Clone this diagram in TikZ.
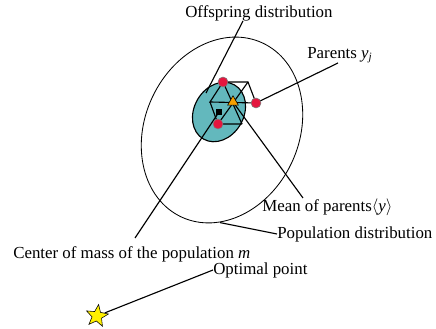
\documentclass[tikz,border=0pt]{standalone}
\usepackage{fontspec}
\setmainfont{Liberation Serif}
\usepackage{tikz}
\usepackage{xcolor}
\usetikzlibrary{shapes.geometric}
\definecolor{offteal}{RGB}{99,184,189}
\definecolor{parentred}{RGB}{228,22,62}
\definecolor{meanorange}{RGB}{245,160,0}
\definecolor{staryellow}{RGB}{255,240,0}

\begin{document}
\begin{tikzpicture}[
	parent/.style={circle, fill=parentred, draw=black!50, thin, inner sep=0pt, minimum size=0.25cm},
	lbl/.style={anchor=west, inner sep=0pt, font=\fontsize{12}{14}\selectfont},
	wire/.style={thick}
]
				\useasboundingbox (0,0) rectangle (10.9,8.225);
				
				\draw[thick, fill=offteal] (5.475,5.425) ellipse[x radius=0.78cm, y radius=0.62cm, rotate=60];
				\draw[semithick] (5.55,4.975) ellipse[x radius=2.4cm, y radius=1.925cm, rotate=65];
				
				\coordinate (pa) at (5.575,6.175);
				\coordinate (pb) at (6.4,5.65);
				\coordinate (pc) at (5.45,5.125);
				\coordinate (vb) at (6.2,6.175);
				\coordinate (vd) at (5.25,5.675);
				\coordinate (vf) at (6.05,5.125);
				\coordinate (mean) at (5.825,5.675);
				\coordinate (com) at (5.475,5.425);
				
				\node[lbl] (offl) at (4.625,7.9) {Offspring distribution};
				\node[lbl] (parl) at (7.675,6.85) {Parents \textit{y\textsubscript{j}}};
				\node[lbl] (meanl) at (6.55,3.05) {Mean of parents$\langle$\textit{y}$\rangle$};
				\node[lbl] (popl) at (6.925,2.375) {Population distribution};
				\node[lbl] (coml) at (0.325,1.875) {Center of mass of the population \textit{m}};
				\node[lbl] (optl) at (5.325,1.475) {Optimal point};
				
				\coordinate (offtip) at (6.075,7.7);
				\coordinate (offend) at (5.15,5.9);
				\coordinate (partip) at (8.45,6.65);
				\coordinate (meantip) at (7.575,3.275);
				\coordinate (comtip) at (3.375,2.275);
				\coordinate (popedge) at (5.5,2.66);
				
				\draw[wire] (pa) -- (vb) -- (pb);
				\draw[wire] (pa) -- (vd) -- (pb);
				\draw[wire] (vd) -- (pc) -- (vf);
				\draw[wire] (pa) -- (vf);
				\draw[wire] (vb) -- (pc);
				
				\draw[wire] (offtip) -- (offend);
				\draw[wire] (pb) -- (partip);
				\draw[wire] (mean) -- (meantip);
				\draw[wire] (com) -- (comtip);
				\draw[wire] (popedge) -- (popl.west);
				
				\node[parent] (p1) at (pa) {};
				\node[parent] (p2) at (pb) {};
				\node[parent] (p3) at (pc) {};
				\node[fill=black, inner sep=0pt, minimum size=0.15cm] (cm) at (com) {};
				\node[regular polygon, regular polygon sides=3, fill=meanorange, draw=black, thin, inner sep=0pt, minimum size=0.31cm] (mn) at (mean) {};
				
				\node[star, star points=5, star point ratio=2.3, fill=staryellow, draw=black, thin, inner sep=0pt, minimum size=0.58cm, rotate=-8] (opt) at (2.425,0.325) {};
				\draw[wire] (opt) -- (optl.west);
			\end{tikzpicture}
\end{document}
